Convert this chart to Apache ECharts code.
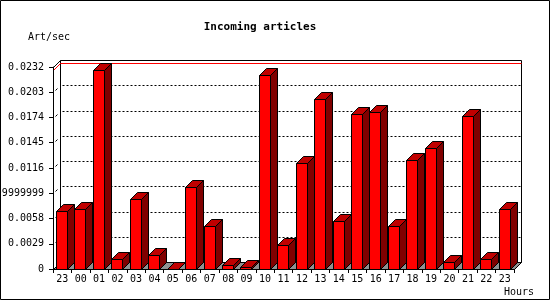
<!DOCTYPE html>
<html>
<head>
<meta charset="utf-8">
<script src="https://cdn.jsdelivr.net/npm/echarts@6/dist/echarts.min.js"></script>
<style>html,body{margin:0;padding:0;background:#fff}#c{width:550px;height:300px}</style>
</head>
<body>
<div id="c"></div>
<script>
const chartTitle = "Incoming articles";
const yAxisName = "Art/sec";
const xAxisName = "Hours";
const hours = ["23","00","01","02","03","04","05","06","07","08","09","10","11","12","13","14","15","16","17","18","19","20","21","22","23"];
const articles = [0.00669,0.00691,0.02283,0.00111,0.00806,0.00165,0,0.00947,0.00497,0.0005,0.00027,0.02229,0.00279,0.01218,0.01954,0.00554,0.01783,0.01806,0.00492,0.01256,0.0139,0.00085,0.01756,0.00111,0.00691];
const yTicks = [0,0.0029,0.0058,0.0087,0.0116,0.0145,0.0174,0.0203,0.0232];
const yTickLabels = ["0","0.0029","0.0058","0.00869999999999999","0.0116","0.0145","0.0174","0.0203","0.0232"];

const FONT = "DejaVu Sans Mono";
const D = 7;
const FRONT_W = 11;
const maxVal = Math.max.apply(null, articles);

function px(v){ return Math.round(v) + 0.5; }

function renderPanel(params, api) {
  const cs = params.coordSys;
  const L = px(cs.x), R = px(cs.x + cs.width);
  const T = px(cs.y), B = px(cs.y + cs.height);
  const ch = [];
  ch.push({type:'rect', shape:{x:L+D, y:T-D, width:R-L, height:B-T}, style:{fill:'#fff', stroke:'#000', lineWidth:1}});
  for (let k = 1; k < yTicks.length - 1; k++) {
    const y = px(api.coord([0, yTicks[k]])[1]);
    ch.push({type:'line', shape:{x1:L+D+2, y1:y-D, x2:R+D, y2:y-D}, style:{stroke:'#000', lineWidth:1, lineDash:[2,2]}});
    ch.push({type:'line', shape:{x1:L+2, y1:y-2, x2:L+4, y2:y-4}, style:{stroke:'#000', lineWidth:1}});
  }
  ch.push({type:'line', shape:{x1:L, y1:T, x2:L+D, y2:T-D}, style:{stroke:'#000', lineWidth:1}});
  const ym = px(api.coord([0, maxVal])[1]);
  ch.push({type:'line', shape:{x1:L+D, y1:ym-D, x2:R+D, y2:ym-D}, style:{stroke:'#ff0000', lineWidth:1}});
  ch.push({type:'line', shape:{x1:L, y1:ym, x2:L+D, y2:ym-D}, style:{stroke:'#ff0000', lineWidth:1}});
  ch.push({type:'polygon', shape:{points:[[L,B],[R,B],[R+D,B-D],[L+D,B-D]]}, style:{fill:'#909090', stroke:'#000', lineWidth:1}});
  return {type:'group', children:ch};
}

function renderBar(params, api) {
  const i = api.value(0), v = api.value(1);
  const base = api.coord([i, 0]);
  const top = api.coord([i, v]);
  const band = api.size([1, 0])[0];
  const x0 = Math.floor(base[0] - band / 2 + 3.5) + 0.5;
  const x1 = x0 + FRONT_W;
  const yb = px(base[1]);
  const yt = px(top[1]);
  return {type:'group', children:[
    {type:'polygon', shape:{points:[[x1,yt],[x1+D,yt-D],[x1+D,yb-D],[x1,yb]]}, style:{fill:'#800000', stroke:'#000', lineWidth:1}},
    {type:'polygon', shape:{points:[[x0,yt],[x0+D,yt-D],[x1+D,yt-D],[x1,yt]]}, style:{fill:'#c00000', stroke:'#000', lineWidth:1}},
    {type:'rect', shape:{x:x0, y:yt, width:FRONT_W, height:yb-yt}, style:{fill:'#ff0000', stroke:'#000', lineWidth:1}}
  ]};
}

const chart = echarts.init(document.getElementById('c'), null, {renderer:'canvas'});
chart.setOption({
  animation: false,
  backgroundColor: '#fff',
  grid: {left:53, top:67, width:461, height:202, containLabel:false, outerBoundsMode:'none'},
  xAxis: {
    type:'category', data:hours, z:10,
    axisLine:{show:true, lineStyle:{color:'#000', width:1}},
    axisTick:{show:true, length:4, interval:0, lineStyle:{color:'#000'}},
    axisLabel:{interval:0, margin:5, color:'#000', fontFamily:FONT, fontSize:10, hideOverlap:false},
    splitLine:{show:false}
  },
  yAxis: {
    type:'value', min:0, max:0.0232, interval:0.0029, z:10,
    axisLine:{show:true, lineStyle:{color:'#000', width:1}},
    axisTick:{show:true, length:4, lineStyle:{color:'#000'}},
    axisLabel:{margin:9, color:'#000', fontFamily:FONT, fontSize:10,
      formatter:function(v){ const k = Math.round(v/0.0029); return yTickLabels[k] !== undefined ? yTickLabels[k] : String(v); }},
    splitLine:{show:false}
  },
  series: [
    {type:'custom', z:1, renderItem:renderPanel, data:[[0, 0]], silent:true},
    {type:'custom', z:2, renderItem:renderBar, data:articles.map(function(v,i){return [i,v];}), silent:true}
  ],
  graphic: [
    {type:'text', x:260, y:27, z:20, style:{text:chartTitle, fill:'#000', font:'bold 11px "'+FONT+'"', textAlign:'center', textVerticalAlign:'middle'}},
    {type:'text', x:28, y:37, z:20, style:{text:yAxisName, fill:'#000', font:'10px "'+FONT+'"', textAlign:'left', textVerticalAlign:'middle'}},
    {type:'text', x:504, y:292, z:20, style:{text:xAxisName, fill:'#000', font:'10px "'+FONT+'"', textAlign:'left', textVerticalAlign:'middle'}},
    {type:'rect', x:0, y:0, z:30, shape:{x:0.5, y:0.5, width:549, height:299}, style:{fill:null, stroke:'#000', lineWidth:1}}
  ]
});
</script>
</body>
</html>
